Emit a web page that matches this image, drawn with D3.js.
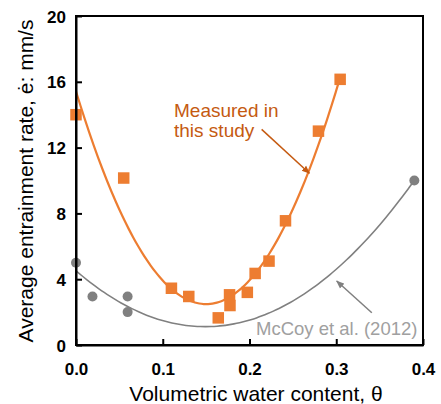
<!DOCTYPE html>
<html>
<head>
<meta charset="utf-8">
<script src="https://cdn.jsdelivr.net/npm/d3@7"></script>
<style>
  body { margin: 0; background: #fff; }
  svg { font-family: "Liberation Sans", Arial, sans-serif; }
</style>
</head>
<body>
<svg id="chart" width="441" height="404"></svg>
<script>
// measured in this study (theta, rate mm/s)
var measuredTheta = [0.0, 0.055, 0.110, 0.130, 0.164, 0.177, 0.1775, 0.1975, 0.2065, 0.2225, 0.2415, 0.2795, 0.3045];
var measuredRate  = [14.0, 10.15, 3.45, 2.95, 1.65, 3.05, 2.4, 3.2, 4.35, 5.1, 7.55, 13.0, 16.15];

// McCoy et al. (2012)
var mccoyTheta = [0.0, 0.019, 0.0595, 0.0595, 0.39];
var mccoyRate  = [5.0, 2.95, 2.95, 2.0, 10.0];

var xTicks = [0, 0.1, 0.2, 0.3, 0.4];
var yTicks = [0, 4, 8, 12, 16, 20];

var orange = "#ED7D31", orangeText = "#C55A11", grey = "#808080", greyText = "#A0A0A0";

var svg = d3.select("#chart");
var x = d3.scaleLinear().domain([0, 0.4]).range([76, 423]);
var y = d3.scaleLinear().domain([0, 20]).range([345, 16]);

// quadratic least squares trend, like the spreadsheet trendline
function quadFit(xs, ys) {
  var S = [[0,0,0],[0,0,0],[0,0,0]], b = [0,0,0];
  xs.forEach(function(xv, i) {
    var p = [1, xv, xv*xv];
    for (var r = 0; r < 3; r++) {
      b[r] += p[r] * ys[i];
      for (var c = 0; c < 3; c++) S[r][c] += p[r] * p[c];
    }
  });
  // gauss elimination
  for (var k = 0; k < 3; k++) {
    for (var r2 = k + 1; r2 < 3; r2++) {
      var f = S[r2][k] / S[k][k];
      for (var c2 = k; c2 < 3; c2++) S[r2][c2] -= f * S[k][c2];
      b[r2] -= f * b[k];
    }
  }
  var co = [0,0,0];
  for (var i2 = 2; i2 >= 0; i2--) {
    var s = b[i2];
    for (var j = i2 + 1; j < 3; j++) s -= S[i2][j] * co[j];
    co[i2] = s / S[i2][i2];
  }
  return function(t) { return co[0] + co[1]*t + co[2]*t*t; };
}

function trendPath(xs, ys) {
  var fn = quadFit(xs, ys);
  var lo = d3.min(xs), hi = d3.max(xs);
  var pts = d3.range(0, 61).map(function(i) { var t = lo + (hi - lo) * i / 60; return [t, fn(t)]; });
  return d3.line().curve(d3.curveBasis).x(function(d){ return x(d[0]); }).y(function(d){ return y(d[1]); })(pts);
}

var defs = svg.append("defs");
[["arrOrange", orangeText], ["arrGrey", grey]].forEach(function(a) {
  defs.append("marker")
    .attr("id", a[0]).attr("viewBox", "0 0 10 10")
    .attr("refX", 9).attr("refY", 5)
    .attr("markerWidth", 5.5).attr("markerHeight", 5.5)
    .attr("orient", "auto")
    .append("path").attr("d", "M0,1 L10,5 L0,9 z").attr("fill", a[1]);
});

// trend lines
svg.append("path").attr("d", trendPath(mccoyTheta, mccoyRate))
  .attr("fill", "none").attr("stroke", grey).attr("stroke-width", 1.6);
svg.append("path").attr("d", trendPath(measuredTheta, measuredRate))
  .attr("fill", "none").attr("stroke", orange).attr("stroke-width", 2.2);

// points
svg.selectAll(".mc").data(mccoyTheta).enter().append("circle")
  .attr("cx", function(d){ return x(d); })
  .attr("cy", function(d, i){ return y(mccoyRate[i]); })
  .attr("r", 5).attr("fill", grey);

svg.selectAll(".ms").data(measuredTheta).enter().append("rect")
  .attr("x", function(d){ return x(d) - 5.75; })
  .attr("y", function(d, i){ return y(measuredRate[i]) - 5.75; })
  .attr("width", 11.5).attr("height", 11.5).attr("fill", orange);

// frame + axes
svg.append("rect").attr("x", 76).attr("y", 16).attr("width", 347).attr("height", 329)
  .attr("fill", "none").attr("stroke", "#000").attr("stroke-width", 2);

var xAxis = d3.axisBottom(x).tickValues(xTicks).tickFormat(d3.format(".1f")).tickSizeInner(-6).tickSizeOuter(0).tickPadding(12);
var yAxis = d3.axisLeft(y).tickValues(yTicks).tickSizeInner(-6).tickSizeOuter(0).tickPadding(14);

var gx = svg.append("g").attr("transform", "translate(0,345)").call(xAxis);
var gy = svg.append("g").attr("transform", "translate(76,0)").call(yAxis);
[gx, gy].forEach(function(g) {
  g.select(".domain").attr("stroke", "#000").attr("stroke-width", 2);
  g.selectAll(".tick line").attr("stroke", "#000").attr("stroke-width", 2);
  g.selectAll(".tick text").attr("fill", "#000")
    .style("font-size", "17px").style("font-weight", "bold")
    .style("font-family", "'Liberation Sans', Arial, sans-serif");
});
gx.selectAll(".tick text").attr("dy", null).attr("y", 30);
gy.selectAll(".tick text").attr("dy", "0.36em").attr("x", -10);

// axis titles
svg.append("text").attr("x", 256).attr("y", 401).attr("text-anchor", "middle")
  .style("font-size", "21px").attr("fill", "#000").text("Volumetric water content, θ");
svg.append("text").attr("transform", "translate(33,181) rotate(-90)").attr("text-anchor", "middle")
  .style("font-size", "21px").attr("fill", "#000").text("Average entrainment rate, ė: mm/s");

// annotations
svg.append("text").attr("x", x(0.113)).attr("y", y(13.89)).attr("fill", orangeText)
  .style("font-size", "19px").text("Measured in");
svg.append("text").attr("x", x(0.113)).attr("y", y(12.67)).attr("fill", orangeText)
  .style("font-size", "19px").text("this study");
svg.append("line").attr("x1", x(0.214)).attr("y1", y(13.11)).attr("x2", x(0.269)).attr("y2", y(10.44))
  .attr("stroke", orangeText).attr("stroke-width", 1.5).attr("marker-end", "url(#arrOrange)");

svg.append("text").attr("x", x(0.2075)).attr("y", y(0.58)).attr("fill", greyText)
  .style("font-size", "18.5px").text("McCoy et al. (2012)");
svg.append("line").attr("x1", x(0.341)).attr("y1", y(1.96)).attr("x2", x(0.3005)).attr("y2", y(3.89))
  .attr("stroke", grey).attr("stroke-width", 1.5).attr("marker-end", "url(#arrGrey)");
</script>
</body>
</html>
